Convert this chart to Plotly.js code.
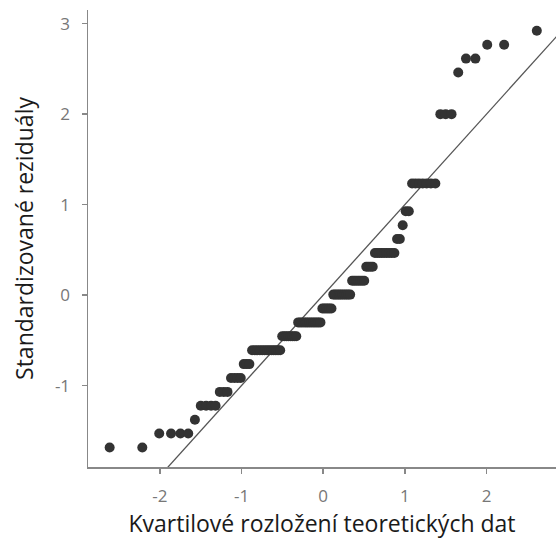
<!DOCTYPE html>
<html>
<head>
<meta charset="utf-8">
<script src="https://cdn.plot.ly/plotly-3.0.1.min.js"></script>
<style>
  html, body { margin: 0; padding: 0; background: #ffffff; }
  #chart { width: 556px; height: 541px; }
</style>
</head>
<body>
<div id="chart"></div>
<script>
// Theoretical normal quantiles (x)
const theoretical = [
  -2.615, -2.215, -2.008, -1.863, -1.748, -1.653, -1.571, -1.499, -1.434, -1.373,
  -1.318, -1.266, -1.218, -1.172, -1.129, -1.088, -1.048, -1.010, -0.973, -0.938,
  -0.904, -0.871, -0.838, -0.807, -0.776, -0.746, -0.717, -0.688, -0.661, -0.633,
  -0.606, -0.580, -0.553, -0.527, -0.502, -0.476, -0.451, -0.427, -0.402, -0.378,
  -0.354, -0.330, -0.307, -0.284, -0.261, -0.237, -0.214, -0.192, -0.169, -0.146,
  -0.123, -0.101, -0.078, -0.056, -0.034, -0.011, 0.011, 0.034, 0.056, 0.078,
  0.101, 0.123, 0.146, 0.169, 0.192, 0.214, 0.237, 0.261, 0.284, 0.307,
  0.330, 0.354, 0.378, 0.402, 0.427, 0.451, 0.476, 0.502, 0.527, 0.553,
  0.580, 0.606, 0.633, 0.661, 0.688, 0.717, 0.746, 0.776, 0.807, 0.838,
  0.871, 0.904, 0.938, 0.973, 1.010, 1.048, 1.088, 1.129, 1.172, 1.218,
  1.266, 1.318, 1.373, 1.434, 1.499, 1.571, 1.653, 1.748, 1.863, 2.008,
  2.215, 2.615
];

// Standardized residuals (y)
const residuals = [
  -1.684, -1.684,
  -1.530, -1.530, -1.530, -1.530,
  -1.377,
  -1.223, -1.223, -1.223, -1.223,
  -1.070, -1.070, -1.070,
  -0.916, -0.916, -0.916, -0.916,
  -0.763, -0.763, -0.763,
  -0.609, -0.609, -0.609, -0.609, -0.609, -0.609, -0.609, -0.609, -0.609, -0.609, -0.609, -0.609, -0.609,
  -0.456, -0.456, -0.456, -0.456, -0.456, -0.456, -0.456, -0.456,
  -0.302, -0.302, -0.302, -0.302, -0.302, -0.302, -0.302, -0.302, -0.302, -0.302, -0.302, -0.302, -0.302,
  -0.149, -0.149, -0.149, -0.149, -0.149, -0.149,
  0.005, 0.005, 0.005, 0.005, 0.005, 0.005, 0.005, 0.005, 0.005, 0.005,
  0.158, 0.158, 0.158, 0.158, 0.158, 0.158, 0.158,
  0.312, 0.312, 0.312, 0.312,
  0.465, 0.465, 0.465, 0.465, 0.465, 0.465, 0.465, 0.465, 0.465,
  0.619, 0.619,
  0.772,
  0.926, 0.926,
  1.233, 1.233, 1.233, 1.233, 1.233, 1.233, 1.233,
  1.999, 1.999, 1.999,
  2.459,
  2.613, 2.613,
  2.766, 2.766,
  2.920
];

// Reference line (y = x)
const refLineX = [-3, 3];
const refLineY = [-3, 3];

const xTickVals = [-2, -1, 0, 1, 2];
const xTickText = ['-2', '-1', '0', '1', '2'];
const yTickVals = [-1, 0, 1, 2, 3];
const yTickText = ['-1', '0', '1', '2', '3'];

const xTitle = "Kvartilové rozložení teoretických dat";
const yTitle = "Standardizované reziduály";

const FONT = "'Open Sans', 'Noto Sans', sans-serif";

const traces = [
  {
    x: refLineX, y: refLineY, type: 'scatter', mode: 'lines',
    line: { color: '#555555', width: 1.3 }, hoverinfo: 'skip', showlegend: false
  },
  {
    x: theoretical, y: residuals, type: 'scatter', mode: 'markers',
    marker: { color: '#333333', size: 10, line: { width: 0 } }, showlegend: false
  }
];

const axisCommon = {
  showgrid: false, zeroline: false, showline: true,
  linecolor: '#888888', linewidth: 1.5,
  ticks: 'outside', ticklen: 5, tickwidth: 1.5, tickcolor: '#888888',
  tickfont: { family: FONT, size: 17, color: '#777777' },
  fixedrange: true
};

const layout = {
  width: 556, height: 541,
  margin: { l: 88, r: 0, t: 10, b: 74 },
  paper_bgcolor: '#ffffff', plot_bgcolor: '#ffffff',
  font: { family: FONT },
  xaxis: Object.assign({}, axisCommon, {
    range: [-2.88, 2.85], tickmode: 'array', tickvals: xTickVals, ticktext: xTickText,
    ticklabelstandoff: 8,
    title: { text: xTitle, font: { family: FONT, size: 23, color: '#1a1a1a' }, standoff: 4 }
  }),
  yaxis: Object.assign({}, axisCommon, {
    range: [-1.90, 3.15], tickmode: 'array', tickvals: yTickVals, ticktext: yTickText,
    ticklabelstandoff: 8,
    title: { text: yTitle, font: { family: FONT, size: 23, color: '#1a1a1a' }, standoff: 15 }
  }),
  showlegend: false
};

Plotly.newPlot('chart', traces, layout, { displayModeBar: false, staticPlot: true });
</script>
</body>
</html>
